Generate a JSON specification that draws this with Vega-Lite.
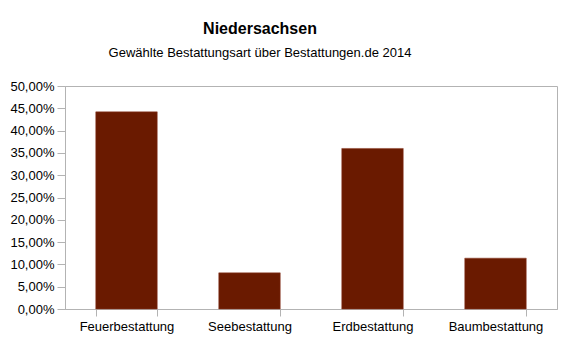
{
  "$schema": "https://vega.github.io/schema/vega-lite/v6.json",
  "width": 492,
  "height": 223,
  "autosize": "none",
  "padding": {"left": 65, "top": 86, "right": 11, "bottom": 32},
  "background": "white",
  "title": {
    "text": "Niedersachsen",
    "subtitle": "Gewählte Bestattungsart über Bestattungen.de 2014",
    "anchor": "middle",
    "frame": "group",
    "dx": -51,
    "offset": 20,
    "font": "Liberation Sans",
    "fontSize": 16,
    "fontWeight": "bold",
    "color": "#000000",
    "subtitleFont": "Liberation Sans",
    "subtitleFontSize": 13,
    "subtitleFontWeight": 500,
    "subtitleColor": "#000000",
    "subtitlePadding": 10
  },
  "data": {
    "values": [
      {"art": "Feuerbestattung", "anteil": 0.442},
      {"art": "Seebestattung", "anteil": 0.081},
      {"art": "Erdbestattung", "anteil": 0.360},
      {"art": "Baumbestattung", "anteil": 0.114}
    ]
  },
  "mark": {"type": "bar", "color": "#6a1a00", "stroke": "#8a3a25", "strokeWidth": 0.5},
  "encoding": {
    "x": {
      "field": "art",
      "type": "nominal",
      "sort": null,
      "scale": {"paddingInner": 0.5, "paddingOuter": 0.25},
      "axis": {
        "title": null,
        "labelAngle": 0,
        "tickBand": "extent",
        "tickSize": 7,
        "labelPadding": 4,
        "labelFont": "Liberation Sans",
        "labelFontSize": 13,
        "labelColor": "#000000",
        "domainColor": "#b3b3b3",
        "tickColor": "#b3b3b3",
        "grid": false
      }
    },
    "y": {
      "field": "anteil",
      "type": "quantitative",
      "scale": {"domain": [0, 0.5], "nice": false},
      "axis": {
        "title": null,
        "format": ".2%",
        "values": [0, 0.05, 0.1, 0.15, 0.2, 0.25, 0.3, 0.35, 0.4, 0.45, 0.5],
        "tickSize": 8,
        "labelPadding": 3,
        "labelFont": "Liberation Sans",
        "labelFontSize": 13,
        "labelColor": "#000000",
        "domainColor": "#b3b3b3",
        "tickColor": "#b3b3b3",
        "grid": false
      }
    }
  },
  "config": {
    "locale": {
      "number": {"decimal": ",", "thousands": ".", "grouping": [3], "currency": ["", " €"]}
    },
    "view": {"stroke": "#b3b3b3"}
  }
}
